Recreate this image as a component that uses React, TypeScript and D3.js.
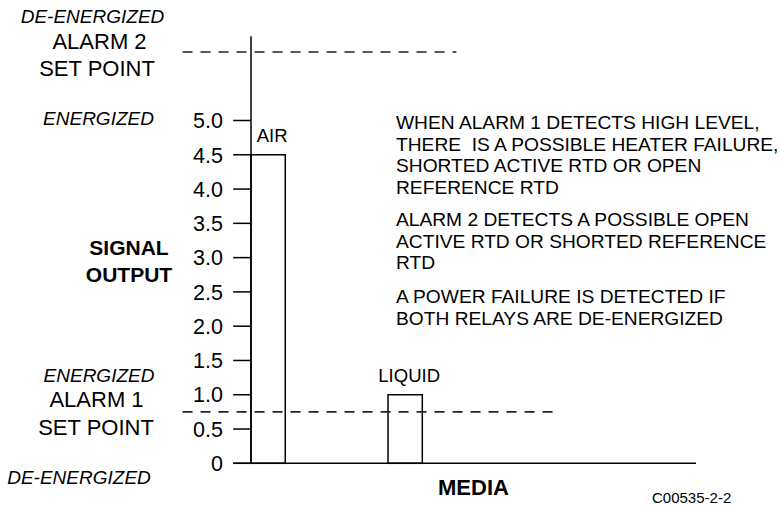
import React from "react";
import * as d3 from "d3";

const media = ["AIR", "LIQUID"];
const signal = [4.5, 1.0];
const tickValues = [0, 0.5, 1.0, 1.5, 2.0, 2.5, 3.0, 3.5, 4.0, 4.5, 5.0];
const tickLabels = ["0", "0.5", "1.0", "1.5", "2.0", "2.5", "3.0", "3.5", "4.0", "4.5", "5.0"];
const alarmLevels = [0.75, 6.0];
const alarmEnd = [9, 6];
const notes = [
  ["WHEN ALARM 1 DETECTS HIGH LEVEL,", "THERE  IS A POSSIBLE HEATER FAILURE,", "SHORTED ACTIVE RTD OR OPEN", "REFERENCE RTD"],
  ["ALARM 2 DETECTS A POSSIBLE OPEN", "ACTIVE RTD OR SHORTED REFERENCE", "RTD"],
  ["A POWER FAILURE IS DETECTED IF", "BOTH RELAYS ARE DE-ENERGIZED"],
];

const FONT = "'Liberation Sans', Arial, Helvetica, sans-serif";

export default function App() {
  const W = 780, H = 506;
  const y = d3.scaleLinear().domain([0, 5]).range([463.3, 120.5]);
  const xu = d3.scaleLinear().domain([0, 13]).range([251, 696]);
  const xb = d3.scaleBand().domain(media).range([251, 422.3]).paddingInner(0.75).paddingOuter(0).align(0);
  const axisX = xu(0);
  const tickLeft = xu(-0.52);

  const noteStarts = [129, 226, 303];
  const lh = 21.5;

  const T = (props: any) => <text fontFamily={FONT} fill="#000" {...props} />;

  return (
    <svg width={W} height={H} style={{ position: "absolute", left: 0, top: 0, background: "#fff" }}>
      {/* left labels */}
      <T x={92.5} y={23} fontSize={19} fontStyle="italic" textAnchor="middle">DE-ENERGIZED</T>
      <T x={99.5} y={48.5} fontSize={22} textAnchor="middle">ALARM 2</T>
      <T x={97} y={75.5} fontSize={22} textAnchor="middle">SET POINT</T>
      <T x={98.5} y={125} fontSize={19} fontStyle="italic" textAnchor="middle">ENERGIZED</T>
      <T x={129} y={255} fontSize={21} fontWeight="bold" textAnchor="middle">SIGNAL</T>
      <T x={129} y={281.7} fontSize={21} fontWeight="bold" textAnchor="middle">OUTPUT</T>
      <T x={99} y={381.7} fontSize={19} fontStyle="italic" textAnchor="middle">ENERGIZED</T>
      <T x={96.5} y={407} fontSize={22} textAnchor="middle">ALARM 1</T>
      <T x={96} y={434.5} fontSize={22} textAnchor="middle">SET POINT</T>
      <T x={79} y={484} fontSize={19} fontStyle="italic" textAnchor="middle">DE-ENERGIZED</T>

      {/* y axis */}
      <line x1={axisX} x2={axisX} y1={y(0)} y2={y(6.23)} stroke="#000" strokeWidth={1.5} />
      {tickValues.map((v, i) => (
        <g key={i}>
          <line x1={tickLeft} x2={axisX} y1={y(v)} y2={y(v)} stroke="#000" strokeWidth={1.5} />
          <T x={223} y={y(v)} dy="0.36em" fontSize={21.5} textAnchor="end">{tickLabels[i]}</T>
        </g>
      ))}
      {/* x axis */}
      <line x1={tickLeft} x2={xu(13)} y1={y(0)} y2={y(0)} stroke="#000" strokeWidth={1.5} />

      {/* bars */}
      {media.map((m, i) => (
        <g key={m}>
          <rect x={xb(m)} y={y(signal[i])} width={xb.bandwidth()} height={y(0) - y(signal[i])} fill="none" stroke="#000" strokeWidth={1.5} />
          <T x={(xb(m) as number) + xb.bandwidth() / 2 + 4} y={y(signal[i]) - 12.5} fontSize={18.5} textAnchor="middle">{m}</T>
        </g>
      ))}

      {/* alarm set points */}
      {alarmLevels.map((a, i) => (
        <line key={i} x1={xu(-2)} x2={xu(alarmEnd[i])} y1={y(a)} y2={y(a)} stroke="#222" strokeWidth={1.6} strokeDasharray="10 8" />
      ))}

      {/* notes */}
      {notes.map((p, pi) =>
        p.map((line, li) => (
          <T key={pi + "-" + li} x={396} y={noteStarts[pi] + li * lh} fontSize={19.2} style={{ whiteSpace: "pre" }}>{line}</T>
        ))
      )}

      <T x={473.5} y={495} fontSize={22} fontWeight="bold" textAnchor="middle">MEDIA</T>
      <T x={652} y={503} fontSize={15}>C00535-2-2</T>
    </svg>
  );
}
